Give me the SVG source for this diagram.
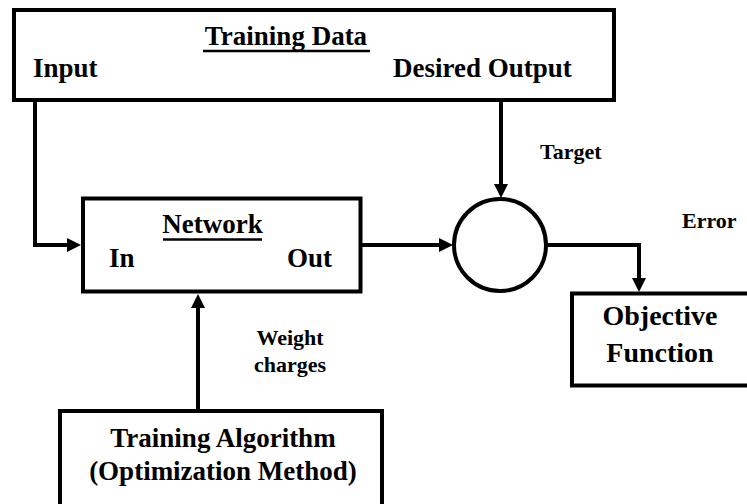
<svg xmlns="http://www.w3.org/2000/svg" width="747" height="504" viewBox="0 0 747 504">
  <style>
    .box { fill: #ffffff; stroke: #000000; stroke-width: 4; }
    .wire { fill: none; stroke: #000000; stroke-width: 4; stroke-linejoin: miter; }
    .rule { stroke: #000000; stroke-width: 2.5; }
    text { font-family: "Liberation Serif", "Times New Roman", serif; font-weight: bold; fill: #000000; }
    .lg { font-size: 27px; }
    .xl { font-size: 28px; }
    .sm { font-size: 22px; }
  </style>
  <defs>
    <marker id="arrow" markerUnits="userSpaceOnUse" markerWidth="14" markerHeight="16" refX="0" refY="8" orient="auto">
      <path d="M0,1 L14,8 L0,15 z" fill="#000000"/>
    </marker>
  </defs>

  <rect width="747" height="504" fill="#ffffff"/>

  <!-- connectors -->
  <g id="connectors">
    <path class="wire" d="M35,100 V245 H67" marker-end="url(#arrow)"/>
    <path class="wire" d="M362,245 H439" marker-end="url(#arrow)"/>
    <path class="wire" d="M501,100 V184" marker-end="url(#arrow)"/>
    <path class="wire" d="M547,245 H639 V278" marker-end="url(#arrow)"/>
    <path class="wire" d="M198,411 V308" marker-end="url(#arrow)"/>
    <text class="sm" x="540" y="159">Target</text>
    <text class="sm" x="682" y="228">Error</text>
    <text class="sm" x="290" y="345" text-anchor="middle">Weight</text>
    <text class="sm" x="290" y="372" text-anchor="middle">charges</text>
  </g>

  <!-- training data source -->
  <g id="training-data">
    <rect class="box" x="14" y="10" width="600" height="90"/>
    <text class="lg" x="286" y="45" text-anchor="middle">Training Data</text>
    <line class="rule" x1="203" y1="51" x2="370" y2="51"/>
    <text class="lg" x="33" y="77">Input</text>
    <text class="lg" x="393" y="77">Desired Output</text>
  </g>

  <!-- network block -->
  <g id="network">
    <rect class="box" x="83" y="198.5" width="277.5" height="93"/>
    <text class="lg" x="212.5" y="233" text-anchor="middle">Network</text>
    <line class="rule" x1="163" y1="239.5" x2="262" y2="239.5"/>
    <text class="lg" x="109" y="267">In</text>
    <text class="lg" x="287" y="267">Out</text>
  </g>

  <!-- comparator -->
  <g id="comparator">
    <circle class="box" cx="500" cy="245" r="46"/>
  </g>

  <!-- objective function -->
  <g id="objective">
    <rect class="box" x="572" y="293.5" width="180" height="92"/>
    <text class="xl" x="660" y="325" text-anchor="middle">Objective</text>
    <text class="xl" x="660" y="362" text-anchor="middle">Function</text>
  </g>

  <!-- training algorithm -->
  <g id="training-algorithm">
    <rect class="box" x="60" y="411" width="322" height="100"/>
    <text class="lg" x="223" y="447" text-anchor="middle">Training Algorithm</text>
    <text class="lg" x="223" y="480" text-anchor="middle">(Optimization Method)</text>
  </g>
</svg>
